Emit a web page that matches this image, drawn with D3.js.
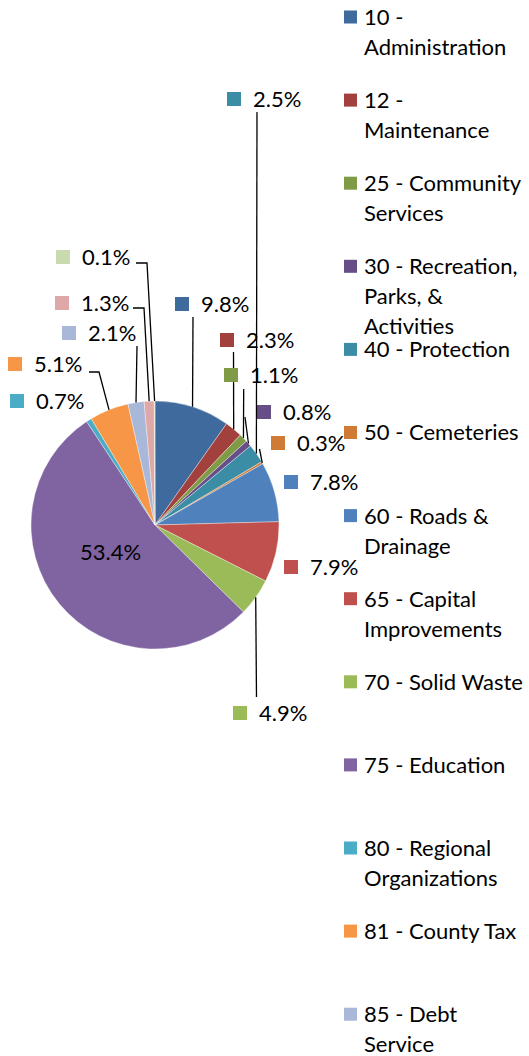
<!DOCTYPE html>
<html><head><meta charset="utf-8">
<script src="https://cdn.jsdelivr.net/npm/d3@7"></script>
<style>body{margin:0;background:#fff}svg{display:block}text{font-family:Lato,"Open Sans",sans-serif;fill:#000}</style>
</head><body><svg id="c" width="529" height="1056"></svg>
<script>
(function(){
// ---- data ----
const categories = ["10 - Administration", "12 - Maintenance", "25 - Community Services",
  "30 - Recreation, Parks, & Activities", "40 - Protection", "50 - Cemeteries",
  "60 - Roads & Drainage", "65 - Capital Improvements", "70 - Solid Waste",
  "75 - Education", "80 - Regional Organizations", "81 - County Tax",
  "85 - Debt Service", "90 - Transfers", "95 - Other"];
const values = [9.8, 2.3, 1.1, 0.8, 2.5, 0.3, 7.8, 7.9, 4.9, 53.4, 0.7, 5.1, 2.1, 1.3, 0.1];
const colors = ["#3F6A9D", "#A2403E", "#7F9B46", "#674E89", "#3A8DA5", "#D07B35",
  "#4F81BD", "#C0504D", "#9BBB59", "#8064A2", "#4BACC6", "#F79646",
  "#A9B8D8", "#DDA8A7", "#C9DAAE"];

// ---- layout (label placement, as arranged in the original) ----
const labelLayout = [
  {sx:175, cy:304, lead:[[193,317]]},
  {sx:220, cy:340, lead:[[233.5,352]]},
  {sx:224, cy:375, lead:[[243.7,389]]},
  {sx:257, cy:412, lead:[[245,417]]},
  {sx:227, cy:99,  lead:[[257,112]]},
  {sx:271, cy:443, lead:[[259.5,449]]},
  {sx:284, cy:482, lead:null},
  {sx:284, cy:567, lead:null},
  {sx:233, cy:713, lead:[[256.5,697]]},
  {inside:true, tx:110.5, cy:552},
  {sx:10, cy:401, lead:null},
  {sx:8,  cy:364, lead:[[89,372],[99,372]]},
  {sx:62, cy:333, lead:[[137,346]]},
  {sx:55, cy:303, lead:[[133,308],[144,308]]},
  {sx:56, cy:257, lead:[[136,263],[147,263]]}
];

const svg = d3.select("#c");
const cx = 155, cy = 525, R = 124;
const g = svg.append("g").attr("transform", `translate(${cx},${cy})`);

const pie = d3.pie().sort(null).value(d => d)(values);
const arc = d3.arc().innerRadius(0).outerRadius(R);

g.selectAll("path.slice").data(pie).join("path")
  .attr("class","slice")
  .attr("d", arc)
  .attr("fill", (d,i) => colors[i])
  .attr("stroke", "#ffffff").attr("stroke-opacity", 0.6).attr("stroke-width", 0.6);

const fmt = v => d3.format(".1f")(v) + "%";
const outerPt = d => { const a = (d.startAngle + d.endAngle)/2; return [cx + R*Math.sin(a), cy - R*Math.cos(a)]; };

const labels = svg.append("g");
pie.forEach((d,i) => {
  const L = labelLayout[i];
  if (L.inside) {
    labels.append("text").attr("x", L.tx).attr("y", L.cy).attr("dy","0.36em")
      .attr("text-anchor","middle").attr("font-size", 22).text(fmt(values[i]));
    return;
  }
  if (L.lead) {
    const pts = L.lead.concat([outerPt(d)]);
    labels.append("path").attr("d", d3.line()(pts)).attr("fill","none")
      .attr("stroke","#000").attr("stroke-width",1.3);
  }
  labels.append("rect").attr("x", L.sx).attr("y", L.cy - 7).attr("width", 14).attr("height", 14)
    .attr("fill", colors[i]);
  labels.append("text").attr("x", L.sx + 26).attr("y", L.cy).attr("dy","0.36em")
    .attr("font-size", 22).text(fmt(values[i]));
});

// ---- legend ----
const legend = svg.append("g");
const maxW = 161, lineH = 30, step = 83.1, legTop = 17;
categories.forEach((name, i) => {
  const y0 = legTop + step*i;
  legend.append("rect").attr("x", 344).attr("y", y0 - 6.5).attr("width", 13).attr("height", 13)
    .attr("fill", colors[i]);
  const t = legend.append("text").attr("font-size", 22);
  const words = name.split(" ");
  let line = [], lines = [];
  const probe = legend.append("text").attr("font-size", 22);
  words.forEach(w => {
    const test = line.concat([w]).join(" ");
    probe.text(test);
    if (line.length && probe.node().getComputedTextLength() > maxW) { lines.push(line.join(" ")); line = [w]; }
    else line.push(w);
  });
  lines.push(line.join(" "));
  probe.remove();
  lines.forEach((s, k) => {
    t.append("tspan").attr("x", 364).attr("y", y0 + k*lineH).attr("dy","0.36em").text(s);
  });
});
})();
</script></body></html>
